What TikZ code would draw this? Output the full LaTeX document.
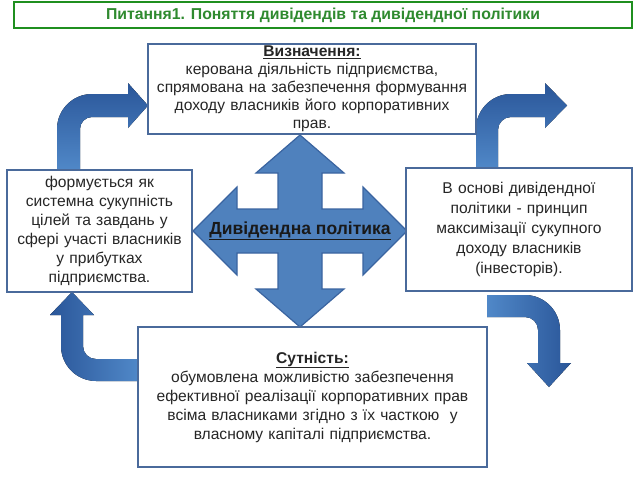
\documentclass[tikz,border=0pt]{standalone}
\usepackage{fontspec}
\setmainfont{Liberation Sans}
\usetikzlibrary{positioning}
\definecolor{boxline}{HTML}{4A6A9B}
\definecolor{titlegreen}{HTML}{2F8A2F}
\definecolor{titleline}{HTML}{1F8F1F}
\definecolor{crossfill}{HTML}{4F81BD}
\definecolor{crossline}{HTML}{3A64A0}
\definecolor{bentdark}{HTML}{2A5699}
\definecolor{bentlight}{HTML}{5088C8}
\tikzset{every picture/.style={line width=1.2pt},
  box/.style={draw=boxline,fill=white,align=center,inner sep=1pt,text=black!85,font=\fontsize{15.6}{19}\selectfont},
  titlebox/.style={draw=titleline,line width=2.5pt,fill=white,text=titlegreen,font=\fontsize{15.8}{17}\selectfont\bfseries}}

\begin{document}
\begin{tikzpicture}[x=1pt,y=-1pt]
\useasboundingbox (0,0) rectangle (640,480);
% bent arrows
\fill[top color=bentdark,bottom color=bentlight] (57,170) -- (57,129) .. controls (57,109.7) and (72.7,94) .. (92,94) -- (128,94) -- (128,83) -- (148,105.5) -- (128,128) -- (128,117) -- (92,117) .. controls (85.4,117) and (80,122.4) .. (80,129) -- (80,170) -- cycle;
\fill[top color=bentdark,bottom color=bentlight] (476,169) -- (476,129) .. controls (476,109.7) and (491.7,94) .. (511,94) -- (545,94) -- (545,83) -- (567,105.5) -- (545,128) -- (545,117) -- (511,117) .. controls (503.8,117) and (498,122.8) .. (498,130) -- (498,169) -- cycle;
\fill[left color=bentdark,right color=bentlight] (138,381) -- (96,381) .. controls (76.7,381) and (61,365.3) .. (61,346) -- (61,315) -- (50,315) -- (72,292) -- (94,315) -- (83,315) -- (83,346) .. controls (83,353.2) and (88.8,359) .. (96,359) -- (138,359) -- cycle;
\fill[left color=bentlight,right color=bentdark] (487,295) -- (525,295) .. controls (544.3,295) and (560,310.7) .. (560,330) -- (560,363) -- (571,363) -- (549,387) -- (527,363) -- (538,363) -- (538,330) .. controls (538,322.8) and (532.2,317) .. (525,317) -- (487,317) -- cycle;
% four-way arrow
\draw[fill=crossfill,draw=crossline] (300,135) -- (344,173) -- (322,173) -- (322,209) -- (363,209) -- (363,187) -- (407,231) -- (363,275) -- (363,253) -- (322,253) -- (322,289) -- (344,289) -- (300,327) -- (256,289) -- (278,289) -- (278,253) -- (237,253) -- (237,275) -- (193,231) -- (237,187) -- (237,209) -- (278,209) -- (278,173) -- (256,173) -- cycle;
\node[titlebox,minimum width=618,minimum height=26] (title) at (323,15) {Питання1. Поняття дивідендів та дивідендної політики};
\node[box,minimum width=328,minimum height=90,text width=324,font=\fontsize{15.6}{18}\selectfont] (defn) at (312,89) {\textbf{\underline{Визначення:}}\\керована діяльність підприємства,\\спрямована на забезпечення формування\\доходу власників його корпоративних\\прав.};
\node[box,minimum width=185,minimum height=122,text width=182] (forms) at (99.5,231) {формується як\\системна сукупність\\цілей та завдань у\\сфері участі власників\\у прибутках\\підприємства.};
\node[box,minimum width=226,minimum height=123,text width=222,font=\fontsize{15.6}{20}\selectfont] (basis) at (519,229.5) {В основі дивідендної\\політики - принцип\\максимізації сукупного\\доходу власників\\(інвесторів).};
\node[box,minimum width=349,minimum height=140,text width=345] (essence) at (312.5,397) {\textbf{\underline{Сутність:}}\\обумовлена можливістю забезпечення\\ефективної реалізації корпоративних прав\\всіма власниками згідно з їх часткою~ у\\власному капіталі підприємства.};
\node[font=\fontsize{17.5}{20}\selectfont\bfseries,text=black!90] (policy) at (300,231) {\underline{Дивідендна політика}};
\end{tikzpicture}
\end{document}
